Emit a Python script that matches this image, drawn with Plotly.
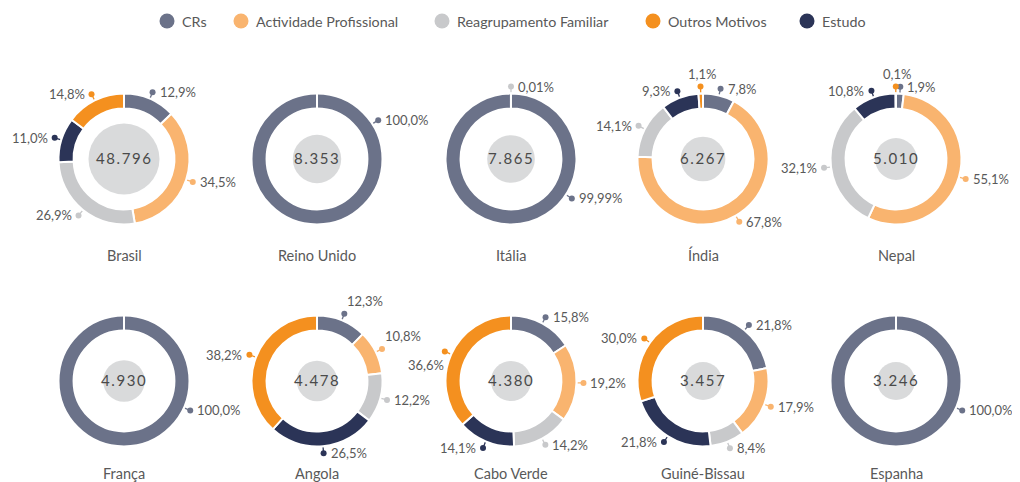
import math
import plotly.graph_objects as go

# ---------------- data ----------------
countries = ["Brasil", "Reino Unido", "Itália", "Índia", "Nepal",
             "França", "Angola", "Cabo Verde", "Guiné-Bissau", "Espanha"]
totals = [48796, 8353, 7865, 6267, 5010, 4930, 4478, 4380, 3457, 3246]

categories = ["CRs", "Actividade Profissional", "Reagrupamento Familiar",
              "Outros Motivos", "Estudo"]
# shares (%) per country
crs = [12.9, 100.0, 99.99, 7.8, 1.9, 100.0, 12.3, 15.8, 21.8, 100.0]
actividade = [34.5, 0, 0, 67.8, 55.1, 0, 10.8, 19.2, 17.9, 0]
reagrupamento = [26.9, 0, 0.01, 14.1, 32.1, 0, 12.2, 14.2, 8.4, 0]
outros = [14.8, 0, 0, 1.1, 0.1, 0, 38.2, 36.6, 30.0, 0]
estudo = [11.0, 0, 0, 9.3, 10.8, 0, 26.5, 14.1, 21.8, 0]

series = {"CRs": crs, "Actividade Profissional": actividade,
          "Reagrupamento Familiar": reagrupamento,
          "Outros Motivos": outros, "Estudo": estudo}

# ---------------- style / layout ----------------
W, H = 1020, 482
OFF = 8  # page offset of the plot inside the browser window
colors = {"CRs": "#6B7289", "Actividade Profissional": "#F9B46F",
          "Reagrupamento Familiar": "#C8C9CB", "Outros Motivos": "#F4901F",
          "Estudo": "#2B3457"}
ring_order = ["CRs", "Actividade Profissional", "Reagrupamento Familiar",
              "Estudo", "Outros Motivos"]
FONT = "Lato, 'Open Sans', sans-serif"
TXT = "#595959"
NUM = "#4A4A4A"

COL_X = [124, 317, 511, 703, 896]
ROW_Y = [159, 381]
NAME_Y = [255, 473]
R_OUT = 65.5
HOLE = 0.77
R_LINE0 = 66.5
R_DOT = 72.5

LEG_X = [167, 241, 442, 653, 807]
LEG_Y = 21

angle_override = {("Reino Unido", "CRs"): 57.6, ("Itália", "CRs"): 123,
                  ("França", "CRs"): 114, ("Espanha", "CRs"): 114}
place_override = {("Itália", "Reagrupamento Familiar"): "right",
                  ("Índia", "Outros Motivos"): "top",
                  ("Nepal", "Outros Motivos"): "top",
                  ("Angola", "CRs"): "above",
                  ("Angola", "Actividade Profissional"): "above",
                  ("Cabo Verde", "Outros Motivos"): "below"}


def fmt_pct(v):
    d = 1 if abs(round(v, 1) - v) < 1e-9 else 2
    return f"{v:.{d}f}".replace(".", ",") + "%"


def fmt_total(v):
    s = f"{v:,}".replace(",", ".")
    return f'<span style="letter-spacing:1.6px">{s}</span>'


def center_radius(v):
    return max(19.0, 19.5 + 6.4 * math.log(v / 4000.0))


fig = go.Figure()
annotations = []
shapes = []
lines = {c: ([], []) for c in categories}
dots = {c: ([], []) for c in categories}

for i, country in enumerate(countries):
    cx = COL_X[i % 5]
    cy = ROW_Y[i // 5]
    labs, vals, cols = [], [], []
    for cat in ring_order:
        v = series[cat][i]
        if v > 0:
            labs.append(cat)
            vals.append(v)
            cols.append(colors[cat])
    fig.add_trace(go.Pie(
        labels=labs, values=vals, hole=HOLE, sort=False,
        direction="clockwise", rotation=0, textinfo="none",
        marker=dict(colors=cols, line=dict(color="white", width=2)),
        domain=dict(x=[(cx - OFF - R_OUT) / W, (cx - OFF + R_OUT) / W],
                    y=[1 - (cy - OFF + R_OUT) / H, 1 - (cy - OFF - R_OUT) / H]),
        showlegend=False, hoverinfo="label+percent", name=country))
    if len(vals) == 1:
        shapes.append(dict(type="line", xref="x", yref="y", layer="above",
                           x0=cx, x1=cx, y0=cy - R_OUT - 1,
                           y1=cy - R_OUT * HOLE + 1,
                           line=dict(color="white", width=2)))
    tot = sum(vals)
    start = 0.0
    for cat, v in zip(labs, vals):
        theta = (start + v / 2) / tot * 360.0
        start += v
        theta = angle_override.get((country, cat), theta)
        a = math.radians(theta)
        sx, sy = math.sin(a), -math.cos(a)
        x0, y0 = cx + R_LINE0 * sx, cy + R_LINE0 * sy
        xd, yd = cx + R_DOT * sx, cy + R_DOT * sy
        lx, ly = lines[cat]
        lx += [x0, xd, None]
        ly += [y0, yd, None]
        dots[cat][0].append(xd)
        dots[cat][1].append(yd)
        place = place_override.get((country, cat),
                                   "right" if sx >= 0 else "left")
        if place == "right":
            ax, ay, xa, ya = xd + 5, yd, "left", "middle"
        elif place == "left":
            ax, ay, xa, ya = xd - 5, yd, "right", "middle"
        elif place == "top":
            ax, ay, xa, ya = xd + 1, yd - 13, "center", "middle"
        elif place == "above":
            ax, ay, xa, ya = xd + 1, yd - 13, "left", "middle"
        else:  # below
            ax, ay, xa, ya = xd + 1, yd + 14, "right", "middle"
        annotations.append(dict(x=ax, y=ay, xref="x", yref="y", text=fmt_pct(v),
                                showarrow=False, xanchor=xa, yanchor=ya,
                                font=dict(family=FONT, size=13, color=TXT)))
    # country name
    annotations.append(dict(x=cx, y=NAME_Y[i // 5], xref="x", yref="y",
                            text=country, showarrow=False, xanchor="center",
                            yanchor="middle",
                            font=dict(family=FONT, size=14.5, color=TXT)))
    # total in the middle
    annotations.append(dict(x=cx, y=cy - 1, xref="x", yref="y",
                            text=fmt_total(totals[i]), showarrow=False,
                            xanchor="center", yanchor="middle",
                            font=dict(family=FONT, size=15, color=NUM)))

# grey centre bubbles
fig.add_trace(go.Scatter(
    x=[COL_X[i % 5] for i in range(len(countries))],
    y=[ROW_Y[i // 5] for i in range(len(countries))],
    mode="markers", hoverinfo="skip", showlegend=False,
    marker=dict(size=[2 * center_radius(t) for t in totals],
                color="#C9CACC", line=dict(width=0))))

# leader lines + dots
for cat in categories:
    fig.add_trace(go.Scatter(x=lines[cat][0], y=lines[cat][1], mode="lines",
                             line=dict(color=colors[cat], width=1.3),
                             hoverinfo="skip", showlegend=False))
    fig.add_trace(go.Scatter(x=dots[cat][0], y=dots[cat][1], mode="markers",
                             marker=dict(size=6, color=colors[cat]),
                             hoverinfo="skip", showlegend=False))

# legend
fig.add_trace(go.Scatter(x=LEG_X, y=[LEG_Y] * len(categories), mode="markers",
                         marker=dict(size=15, color=[colors[c] for c in categories]),
                         hoverinfo="skip", showlegend=False))
for lx, cat in zip(LEG_X, categories):
    annotations.append(dict(x=lx + 13, y=LEG_Y, xref="x", yref="y", text=cat,
                            showarrow=False, xanchor="left", yanchor="middle",
                            font=dict(family=FONT, size=14.3, color=TXT)))

fig.update_layout(
    width=W, height=H, margin=dict(l=0, r=0, t=0, b=0),
    paper_bgcolor="white", plot_bgcolor="white",
    xaxis=dict(range=[OFF, W + OFF], visible=False, fixedrange=True),
    yaxis=dict(range=[H + OFF, OFF], visible=False, fixedrange=True),
    annotations=annotations, shapes=shapes, showlegend=False,
    font=dict(family=FONT, color=TXT))

fig.write_html("out.html")
